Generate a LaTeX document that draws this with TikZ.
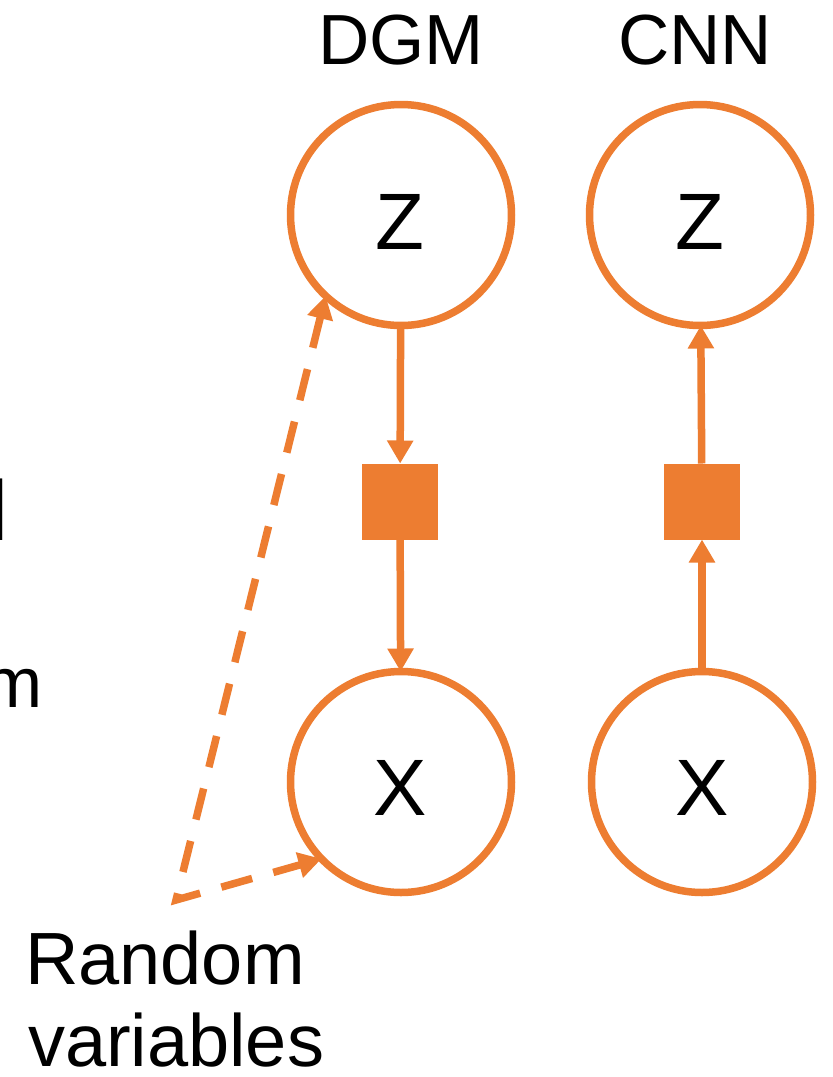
\documentclass[tikz,border=0pt]{standalone}
\usepackage{fontspec}
\setmainfont{Liberation Sans}
\usetikzlibrary{arrows.meta}
\definecolor{orng}{HTML}{ED7D31}
\begin{document}
\begin{tikzpicture}[x=1pt,y=-1pt,
  rv/.style={circle,draw=orng,line width=7.5pt,minimum size=221pt,inner sep=0pt,outer sep=0pt},
  fac/.style={rectangle,fill=orng,minimum size=76pt,inner sep=0pt,outer sep=0pt},
  link/.style={draw=orng,line width=7.5pt,-{Triangle[width=25pt,length=23pt]}},
  dlink/.style={draw=orng,line width=7.5pt,dash pattern=on 32pt off 22pt,{Triangle[width=25pt,length=23pt]}-{Triangle[width=25pt,length=23pt]}},
  lbl/.style={inner sep=0pt,outer sep=0pt,text=black}]
\useasboundingbox (0,0) rectangle (833,1077);
\fill[white] (0,0) rectangle (833,1077);
% titles
\node[lbl,anchor=base,font=\fontsize{71}{85}\selectfont] (tdgm) at (401,64) {DGM};
\node[lbl,anchor=base,font=\fontsize{71}{85}\selectfont] (tcnn) at (695,64) {CNN};
% DGM
\node[rv] (zd) at (401,215) {};
\node[lbl,anchor=base,font=\fontsize{80}{96}\selectfont] (zdl) at (400,249) {Z};
\node[fac] (sd) at (400,501.5) {};
\node[rv] (xd) at (401,782) {};
\node[lbl,anchor=base,font=\fontsize{80}{96}\selectfont] (xdl) at (400,815) {X};
% CNN
\node[rv] (zc) at (700,215) {};
\node[lbl,anchor=base,font=\fontsize{80}{96}\selectfont] (zcl) at (700,249) {Z};
\node[fac] (sc) at (702,501.5) {};
\node[rv] (xc) at (702,782) {};
\node[lbl,anchor=base,font=\fontsize{80}{96}\selectfont] (xcl) at (702,815) {X};
% connectors
\draw[link] (zd) -- (sd);
\draw[link] (sd) -- (xd);
\draw[link] (xc) -- (sc);
\draw[link] (sc) -- (zc);
% dashed pointers
\coordinate (corner) at (176,900);
\draw[dlink] (zd.227) -- (corner) -- (xd.224);
% label
\node[lbl,anchor=base west,font=\fontsize{74}{88}\selectfont] (rnd) at (25,984) {Random};
\node[lbl,anchor=base west,font=\fontsize{74}{88}\selectfont] (var) at (28,1066) {variables};
% clipped fragments at the left edge
\node[lbl,anchor=base east,font=\fontsize{85}{100}\selectfont] (fragl) at (8.8,540) {l};
\node[lbl,anchor=base east,font=\fontsize{71}{85}\selectfont] (fragm) at (42.5,707) {m};
\end{tikzpicture}
\end{document}
